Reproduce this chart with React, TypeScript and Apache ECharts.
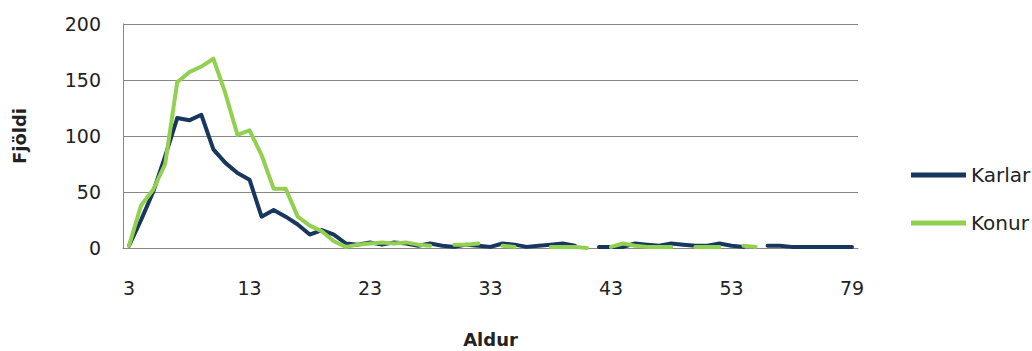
import React, { useEffect, useRef } from "react";
import * as echarts from "echarts";

const ages = [
  "3", "4", "5", "6", "7", "8", "9", "10", "11", "12", "13", "14", "15", "16", "17", "18", "19", "20",
  "21", "22", "23", "24", "25", "26", "27", "28", "29", "30", "31", "32", "33", "34", "35", "36", "37",
  "38", "39", "40", "41", "42", "43", "44", "45", "46", "47", "48", "49", "50", "51", "52", "53",
  "54", "55", "56", "57", "58", "59", "60", "62", "66", "79",
];

const karlar: (number | null)[] = [
  2, 25, 50, 82, 116, 114, 119, 88, 76, 67, 61, 28, 34, 28, 21, 12, 16, 12,
  4, 3, 5, 3, 5, 4, 2, 4, 2, 1, 3, 2, 1, 4, 3, 1, 2,
  3, 4, 2, null, 1, 1, 1, 4, 3, 2, 4, 3, 2, 2, 4, 2,
  1, null, 2, 2, 1, 1, 1, 1, 1, 1,
];

const konur: (number | null)[] = [
  2, 38, 52, 75, 148, 157, 162, 169, 138, 101, 105, 83, 53, 53, 28, 20, 15, 6,
  1, 3, 4, 5, 4, 5, 3, 2, null, 3, 3, 4, null, 2, 1, null, null,
  1, 1, 1, 0, null, 1, 4, 2, 1, 1, 1, null, 1, 1, 1, null,
  2, 1, null, null, null, null, null, null, null, null,
];

const yTicks = [0, 50, 100, 150, 200];

export default function App() {
  const ref = useRef<HTMLDivElement>(null);
  useEffect(() => {
    if (!ref.current) return;
    const chart = echarts.init(ref.current, undefined, { renderer: "svg" });
    const font = "DejaVu Sans";
    chart.setOption({
      animation: false,
      backgroundColor: "#ffffff",
      grid: { left: 123, right: 174, top: 24, bottom: 103, containLabel: false, outerBoundsMode: "none" },
      legend: {
        orient: "vertical",
        left: 906,
        top: 160,
        itemWidth: 55,
        itemHeight: 5,
        itemGap: 28,
        icon: "rect",
        textStyle: { fontFamily: font, fontSize: 20, color: "#222", lineHeight: 20 },
        data: ["Karlar", "Konur"],
      },
      xAxis: {
        type: "category",
        data: ages,
        boundaryGap: true,
        name: "Aldur",
        nameLocation: "middle",
        nameGap: 82,
        nameTextStyle: { fontFamily: font, fontSize: 18, fontWeight: "bold", color: "#222" },
        axisLine: { lineStyle: { color: "#868686", width: 1 } },
        axisTick: { show: false },
        axisLabel: { interval: 9, margin: 30, fontFamily: font, fontSize: 19, color: "#222" },
        splitLine: { show: false },
      },
      yAxis: {
        type: "value",
        min: yTicks[0],
        max: yTicks[yTicks.length - 1],
        interval: 50,
        name: "Fjöldi",
        nameLocation: "middle",
        nameGap: 95,
        nameRotate: 90,
        nameTextStyle: { fontFamily: font, fontSize: 18, fontWeight: "bold", color: "#222" },
        axisLine: { show: true, lineStyle: { color: "#868686", width: 1 } },
        axisTick: { show: false },
        axisLabel: { margin: 22, fontFamily: font, fontSize: 19, color: "#222" },
        splitLine: { show: true, lineStyle: { color: "#868686", width: 1 } },
      },
      series: [
        {
          name: "Karlar",
          type: "line",
          data: karlar,
          symbol: "none",
          connectNulls: false,
          color: "#17375E",
          lineStyle: { color: "#17375E", width: 4, cap: "round", join: "round" },
        },
        {
          name: "Konur",
          type: "line",
          data: konur,
          symbol: "none",
          connectNulls: false,
          color: "#92D050",
          lineStyle: { color: "#92D050", width: 4, cap: "round", join: "round" },
        },
      ],
    });
    return () => chart.dispose();
  }, []);
  return <div ref={ref} style={{ width: 1032, height: 351, position: "absolute", left: 0, top: 0 }} />;
}
